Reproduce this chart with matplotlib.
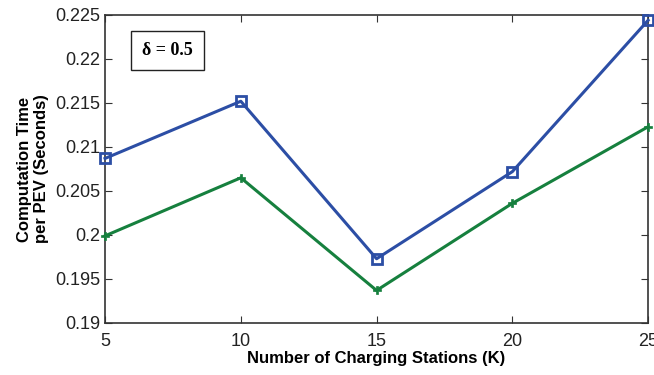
import numpy as np
import matplotlib.pyplot as plt

# number of charging stations vs. computation time per PEV
stations = [5, 10, 15, 20, 25]
time_blue = [0.2087, 0.2152, 0.1973, 0.2072, 0.2244]
time_green = [0.1999, 0.2065, 0.1937, 0.2036, 0.2123]
yticks = [0.19, 0.195, 0.2, 0.205, 0.21, 0.215, 0.22, 0.225]
ytick_labels = ['0.19', '0.195', '0.2', '0.205', '0.21', '0.215', '0.22', '0.225']

plt.rcParams['font.family'] = ['Liberation Sans', 'DejaVu Sans']

fig = plt.figure(figsize=(6.54, 3.75), dpi=100)
ax = fig.add_axes([0.1606, 0.1387, 0.8304, 0.8213])

ax.plot(stations, time_blue, color='#2c4ea5', lw=2.2, marker='s', markersize=7,
        markerfacecolor='none', markeredgewidth=2, clip_on=False, zorder=3)
ax.plot(stations, time_green, color='#16803e', lw=2.2, marker='P', markersize=6,
        markeredgewidth=0.5, clip_on=False, zorder=3)

ax.set_xlim(5, 25)
ax.set_ylim(0.19, 0.225)
ax.set_xticks(stations)
ax.set_yticks(yticks)
ax.set_yticklabels(ytick_labels)
ax.tick_params(direction='in', length=5, labelsize=13, color='#333333', labelcolor='#222222')
ax.tick_params(axis='x', pad=7)
ax.tick_params(top=True, right=True)
for s in ax.spines.values():
    s.set_linewidth(1.2)
    s.set_color('#333333')

ax.set_xlabel('Number of Charging Stations (K)', fontsize=12, fontweight='bold', labelpad=1)
ax.set_ylabel('Computation Time\nper PEV (Seconds)', fontsize=12, fontweight='bold', labelpad=4)

ax.text(0.115, 0.885, '\u03b4 = 0.5', transform=ax.transAxes, fontsize=13,
        fontweight='bold', family=['Liberation Serif', 'DejaVu Serif'], va='center', ha='center',
        bbox=dict(boxstyle='square,pad=0.6', fc='white', ec='#222222', lw=1))

fig.savefig('out.png', dpi=100)
